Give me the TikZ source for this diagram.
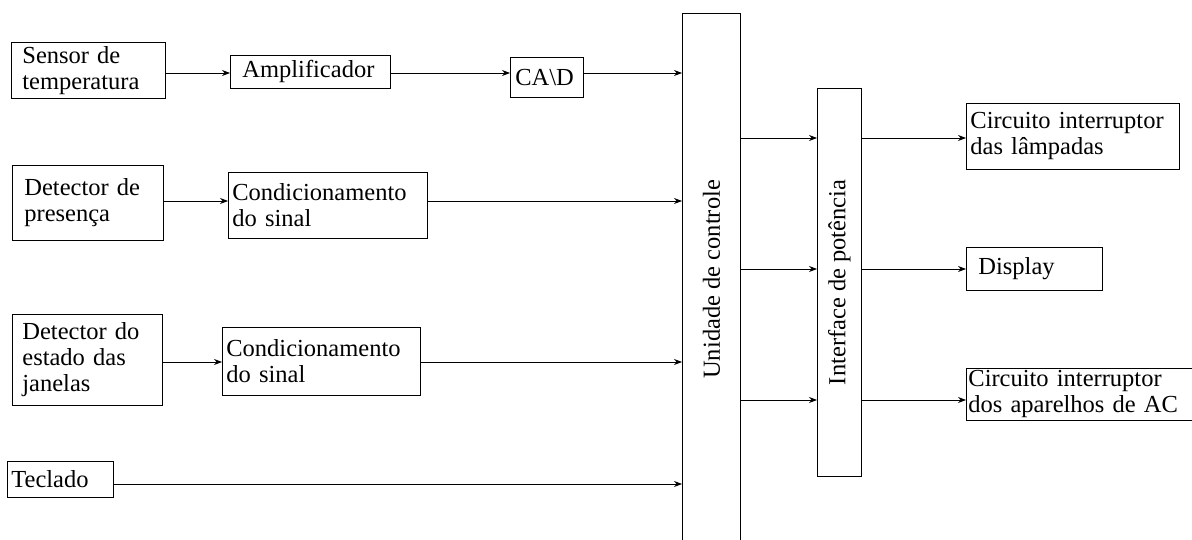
\documentclass[tikz,border=0pt]{standalone}
\usepackage{fontspec}
\setmainfont{Liberation Serif}
\usetikzlibrary{arrows.meta}
\tikzset{
  box/.style={draw, rectangle, line width=0.8pt, align=left, inner ysep=2pt, anchor=north west, font=\fontsize{24.5}{26}\selectfont},
  arr/.style={draw, line width=0.8pt, -{Stealth[length=8pt,width=6pt]}},
  vlabel/.style={rotate=90, font=\fontsize{24.5}{26}\selectfont}
}
\begin{document}
\begin{tikzpicture}[x=1pt,y=-1pt]
\useasboundingbox (0,0) rectangle (1192,540);
% inputs
\node[box, minimum width=154pt, minimum height=56pt, inner xsep=11pt, text width=132pt] (sens) at (11,42) {Sensor de\\temperatura};
\node[box, minimum width=160pt, minimum height=33pt, inner xsep=12pt, text width=136pt] (amp) at (230,55) {Amplificador};
\node[box, minimum width=73pt, minimum height=40pt, inner xsep=5pt, text width=63pt] (cad) at (510,57) {CA\textbackslash D};
\node[box, minimum width=151pt, minimum height=75pt, inner xsep=12pt, text width=127pt] (pres) at (12,165) {Detector de\\presença};
\node[box, minimum width=199pt, minimum height=66pt, inner xsep=4pt, text width=191pt] (cond1) at (228,172) {Condicionamento\\do sinal};
\node[box, minimum width=150pt, minimum height=91pt, inner xsep=10pt, text width=130pt] (est) at (12,314) {Detector do\\estado das\\janelas};
\node[box, minimum width=198pt, minimum height=68pt, inner xsep=4pt, text width=190pt] (cond2) at (222,327) {Condicionamento\\do sinal};
\node[box, minimum width=106pt, minimum height=36pt, inner xsep=4pt, text width=98pt] (tec) at (7,461) {Teclado};
% central blocks
\node[box, minimum width=58pt, minimum height=532pt, label={[vlabel]center:Unidade de controle}] (uc) at (682,13) {};
\node[box, minimum width=44pt, minimum height=388pt, label={[vlabel]center:Interface de potência}] (ip) at (817,88) {};
% outputs
\node[box, minimum width=213pt, minimum height=66pt, inner xsep=4pt, text width=205pt] (lamp) at (966,103) {Circuito interruptor\\das lâmpadas};
\node[box, minimum width=136pt, minimum height=43pt, inner xsep=12pt, text width=112pt] (disp) at (966,247) {Display};
\node[box, minimum width=232pt, minimum height=52pt, inner xsep=2pt, text width=228pt] (ac) at (966,368) {Circuito interruptor\\dos aparelhos de AC};
% row coordinates
\coordinate (y1) at (0,73);
\coordinate (y2) at (0,201);
\coordinate (y3) at (0,362);
\coordinate (y4) at (0,484);
\coordinate (r1) at (0,138);
\coordinate (r2) at (0,269);
\coordinate (r3) at (0,400);
% connectors
\draw[arr] (sens.east |- y1) -- (amp.west |- y1);
\draw[arr] (amp.east |- y1) -- (cad.west |- y1);
\draw[arr] (cad.east |- y1) -- (uc.west |- y1);
\draw[arr] (pres.east |- y2) -- (cond1.west |- y2);
\draw[arr] (cond1.east |- y2) -- (uc.west |- y2);
\draw[arr] (est.east |- y3) -- (cond2.west |- y3);
\draw[arr] (cond2.east |- y3) -- (uc.west |- y3);
\draw[arr] (tec.east |- y4) -- (uc.west |- y4);
\draw[arr] (uc.east |- r1) -- (ip.west |- r1);
\draw[arr] (uc.east |- r2) -- (ip.west |- r2);
\draw[arr] (uc.east |- r3) -- (ip.west |- r3);
\draw[arr] (ip.east |- r1) -- (lamp.west |- r1);
\draw[arr] (ip.east |- r2) -- (disp.west |- r2);
\draw[arr] (ip.east |- r3) -- (ac.west |- r3);
\end{tikzpicture}
\end{document}
